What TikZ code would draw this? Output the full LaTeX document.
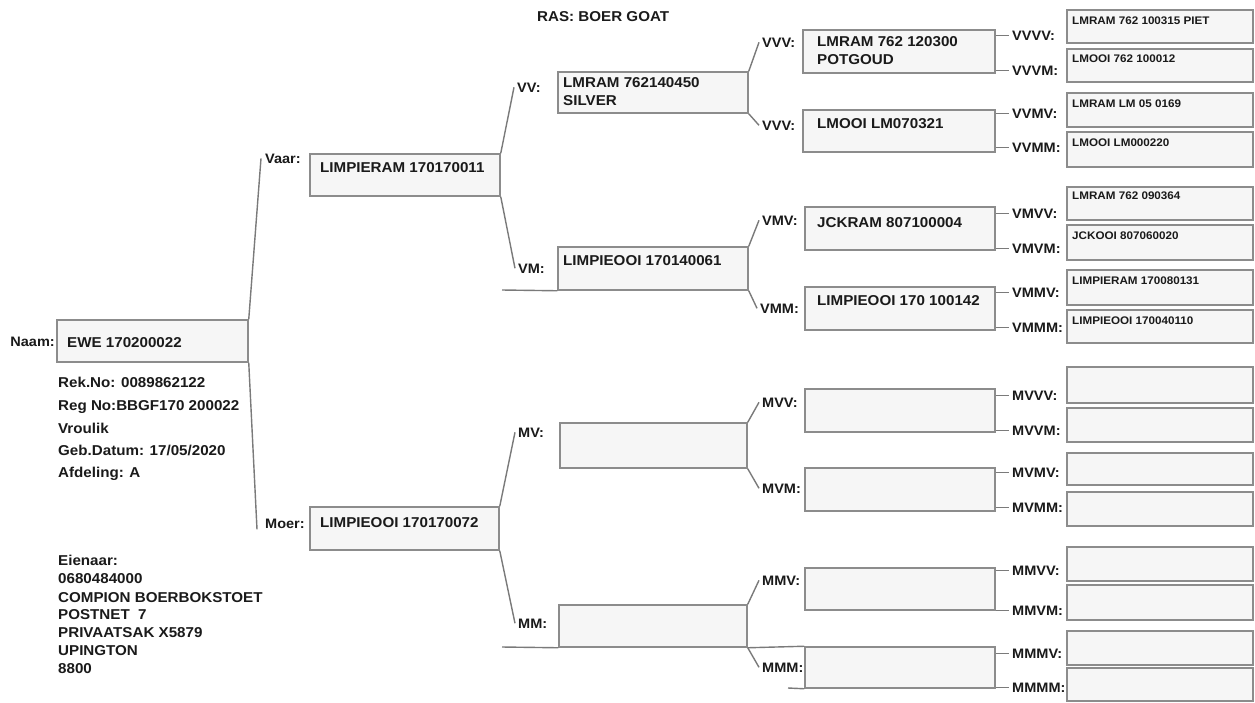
\documentclass[tikz,border=0pt]{standalone}
\usepackage{fontspec}
\setmainfont{Liberation Sans}[FakeStretch=1.06]
\definecolor{boxline}{HTML}{8C8C8C}
\definecolor{boxfill}{HTML}{F6F6F6}
\definecolor{connline}{HTML}{7A7A7A}
\definecolor{ink}{HTML}{1A1A1A}
\newcommand{\fbig}{\fontsize{14.3}{16}\selectfont\bfseries}
\newcommand{\flbl}{\fontsize{13.7}{15}\selectfont\bfseries}
\newcommand{\fsml}{\fontsize{11}{12}\selectfont\bfseries}
\newcommand{\pedbox}[5]{\node[pbox, minimum width={#4-#2}, minimum height={#5-#3}] (#1) at ({(#2+#4)/2},{(#3+#5)/2}) {};}
\begin{document}
\begin{tikzpicture}[x=1pt,y=-1pt,
  pbox/.style={draw=boxline,fill=boxfill,line width=1.5pt,rectangle,inner sep=0pt},
  txt/.style={inner sep=0pt,text=ink,anchor=base west,font=\fbig},
  stxt/.style={inner sep=0pt,text=ink,anchor=base west,font=\fsml},
  lbl/.style={inner sep=0pt,text=ink,anchor=base west,font=\flbl},
  conn/.style={draw=connline,line width=1.4pt}]
\useasboundingbox (0,0) rectangle (1255,702);
\fill[white] (0,0) rectangle (1255,702);

% ---------- boxes ----------
\pedbox{main}{57}{320}{248}{362}
\pedbox{vaar}{310}{154}{500}{196}
\pedbox{moer}{310}{507}{499}{550}
\pedbox{vv}{558}{72}{748}{113}
\pedbox{vm}{558}{247}{748}{290}
\pedbox{mv}{560}{423}{747}{468}
\pedbox{mm}{559}{605}{747}{647}
\pedbox{vvv}{803}{30}{995}{73}
\pedbox{vvm}{803}{110}{995}{152}
\pedbox{vmv}{805}{207}{995}{250}
\pedbox{vmm}{805}{287}{995}{330}
\pedbox{mvv}{805}{389}{995}{432}
\pedbox{mvm}{805}{468}{995}{511}
\pedbox{mmv}{805}{568}{995}{610}
\pedbox{mmm}{805}{647}{995}{688}
\foreach \n/\a/\b in {vvvv/10/43,vvvm/49/82,vvmv/93/127,vvmm/132/167,
  vmvv/187/220,vmvm/225/260,vmmv/270/305,vmmm/310/343,
  mvvv/367/403,mvvm/408/442,mvmv/453/485,mvmm/492/526,
  mmvv/547/581,mmvm/585/620,mmmv/631/665,mmmm/668/701}
  {\pedbox{\n}{1067}{\a}{1253}{\b}}

% ---------- titles and info ----------
\node[txt] (ras) at (537,21) {RAS: BOER GOAT};
\node[lbl,anchor=base east] (lNaam) at (55,346) {Naam:};
\node[txt] (tmain) at (67,347) {EWE 170200022};
\node[txt] (i1) at (58,387) {Rek.No: 0089862122};
\node[txt] (i2) at (58,410) {Reg No:BBGF170 200022};
\node[txt] (i3) at (58,433) {Vroulik};
\node[txt] (i4) at (58,455) {Geb.Datum: 17/05/2020};
\node[txt] (i5) at (58,477) {Afdeling: A};
\node[txt] (o1) at (58,565) {Eienaar:};
\node[txt] (o2) at (58,583) {0680484000};
\node[txt] (o3) at (58,602) {COMPION BOERBOKSTOET};
\node[txt] (o4) at (58,619) {POSTNET\ \ 7};
\node[txt] (o5) at (58,637) {PRIVAATSAK X5879};
\node[txt] (o6) at (58,655) {UPINGTON};
\node[txt] (o7) at (58,673) {8800};

% ---------- texts in boxes ----------
\node[txt] (tvaar) at (320,172) {LIMPIERAM 170170011};
\node[txt] (tmoer) at (320,527) {LIMPIEOOI 170170072};
\node[txt] (tvv1) at (563,87) {LMRAM 762140450};
\node[txt] (tvv2) at (563,105) {SILVER};
\node[txt] (tvm) at (563,265) {LIMPIEOOI 170140061};
\node[txt] (tvvv1) at (817,46) {LMRAM 762 120300};
\node[txt] (tvvv2) at (817,64) {POTGOUD};
\node[txt] (tvvm) at (817,128) {LMOOI LM070321};
\node[txt] (tvmv) at (817,227) {JCKRAM 807100004};
\node[txt] (tvmm) at (817,305) {LIMPIEOOI 170 100142};
\node[stxt] (tvvvv) at (1072,24) {LMRAM 762 100315 PIET};
\node[stxt] (tvvvm) at (1072,62) {LMOOI 762 100012};
\node[stxt] (tvvmv) at (1072,107) {LMRAM LM 05 0169};
\node[stxt] (tvvmm) at (1072,146) {LMOOI LM000220};
\node[stxt] (tvmvv) at (1072,199) {LMRAM 762 090364};
\node[stxt] (tvmvm) at (1072,239) {JCKOOI 807060020};
\node[stxt] (tvmmv) at (1072,284) {LIMPIERAM 170080131};
\node[stxt] (tvmmm) at (1072,324) {LIMPIEOOI 170040110};

% ---------- labels ----------
\node[lbl] (lVaar) at (265,163) {Vaar:};
\node[lbl] (lMoer) at (265,528) {Moer:};
\node[lbl] (lVV) at (517,92) {VV:};
\node[lbl] (lVM) at (518,273) {VM:};
\node[lbl] (lMV) at (518,437) {MV:};
\node[lbl] (lMM) at (518,628) {MM:};
\node[lbl] (lVVV) at (762,47) {VVV:};
\node[lbl] (lVVM) at (762,130) {VVV:};
\node[lbl] (lVMV) at (762,225) {VMV:};
\node[lbl] (lVMM) at (760,313) {VMM:};
\node[lbl] (lMVV) at (762,407) {MVV:};
\node[lbl] (lMVM) at (762,493) {MVM:};
\node[lbl] (lMMV) at (762,585) {MMV:};
\node[lbl] (lMMM) at (762,672) {MMM:};

% ---------- connectors ----------
\draw[conn] (main.north east) -- ([xshift=-4pt]lVaar.west);
\draw[conn] (main.south east) -- ([xshift=-8pt,yshift=-6pt]lMoer.west);
\draw[conn] (vaar.north east) -- ([xshift=-3pt]lVV.west);
\draw[conn] (vaar.south east) -- ([xshift=-3pt]lVM.west);
\draw[conn] (moer.north east) -- ([xshift=-3pt]lMV.west);
\draw[conn] (moer.south east) -- ([xshift=-3pt]lMM.west);
\draw[conn] (vv.north east) -- ([xshift=-3pt]lVVV.west);
\draw[conn] (vv.south east) -- ([xshift=-3pt]lVVM.west);
\draw[conn] (vm.north east) -- ([xshift=-3pt]lVMV.west);
\draw[conn] (vm.south east) -- ([xshift=-3pt]lVMM.west);
\draw[conn] (mv.north east) -- ([xshift=-3pt]lMVV.west);
\draw[conn] (mv.south east) -- ([xshift=-3pt]lMVM.west);
\draw[conn] (mm.north east) -- ([xshift=-3pt]lMMV.west);
\draw[conn] (mm.south east) -- ([xshift=-3pt]lMMM.west);

\coordinate (vmbase) at (502,290);
\coordinate (mmbase) at (502,647);
\coordinate (mmmbase) at (788,688);
\draw[conn] (vmbase) -- (vm.south west);
\draw[conn] (mmbase) -- (mm.south west);
\draw[conn] (mm.south east) -- (mmm.north west);
\draw[conn] (mmmbase) -- (mmm.south west);

\foreach \n/\y/\p in {VVVV/40/vvv,VVVM/75/vvv,VVMV/118/vvm,VVMM/152/vvm,
  VMVV/218/vmv,VMVM/253/vmv,VMMV/297/vmm,VMMM/332/vmm,
  MVVV/400/mvv,MVVM/435/mvv,MVMV/477/mvm,MVMM/512/mvm,
  MMVV/575/mmv,MMVM/615/mmv,MMMV/658/mmm,MMMM/692/mmm}
{
  \node[lbl] (l\n) at (1012,\y) {\n:};
  \draw[conn] (\p.east |- l\n.west) -- ([xshift=-3pt]l\n.west);
}
\end{tikzpicture}
\end{document}
